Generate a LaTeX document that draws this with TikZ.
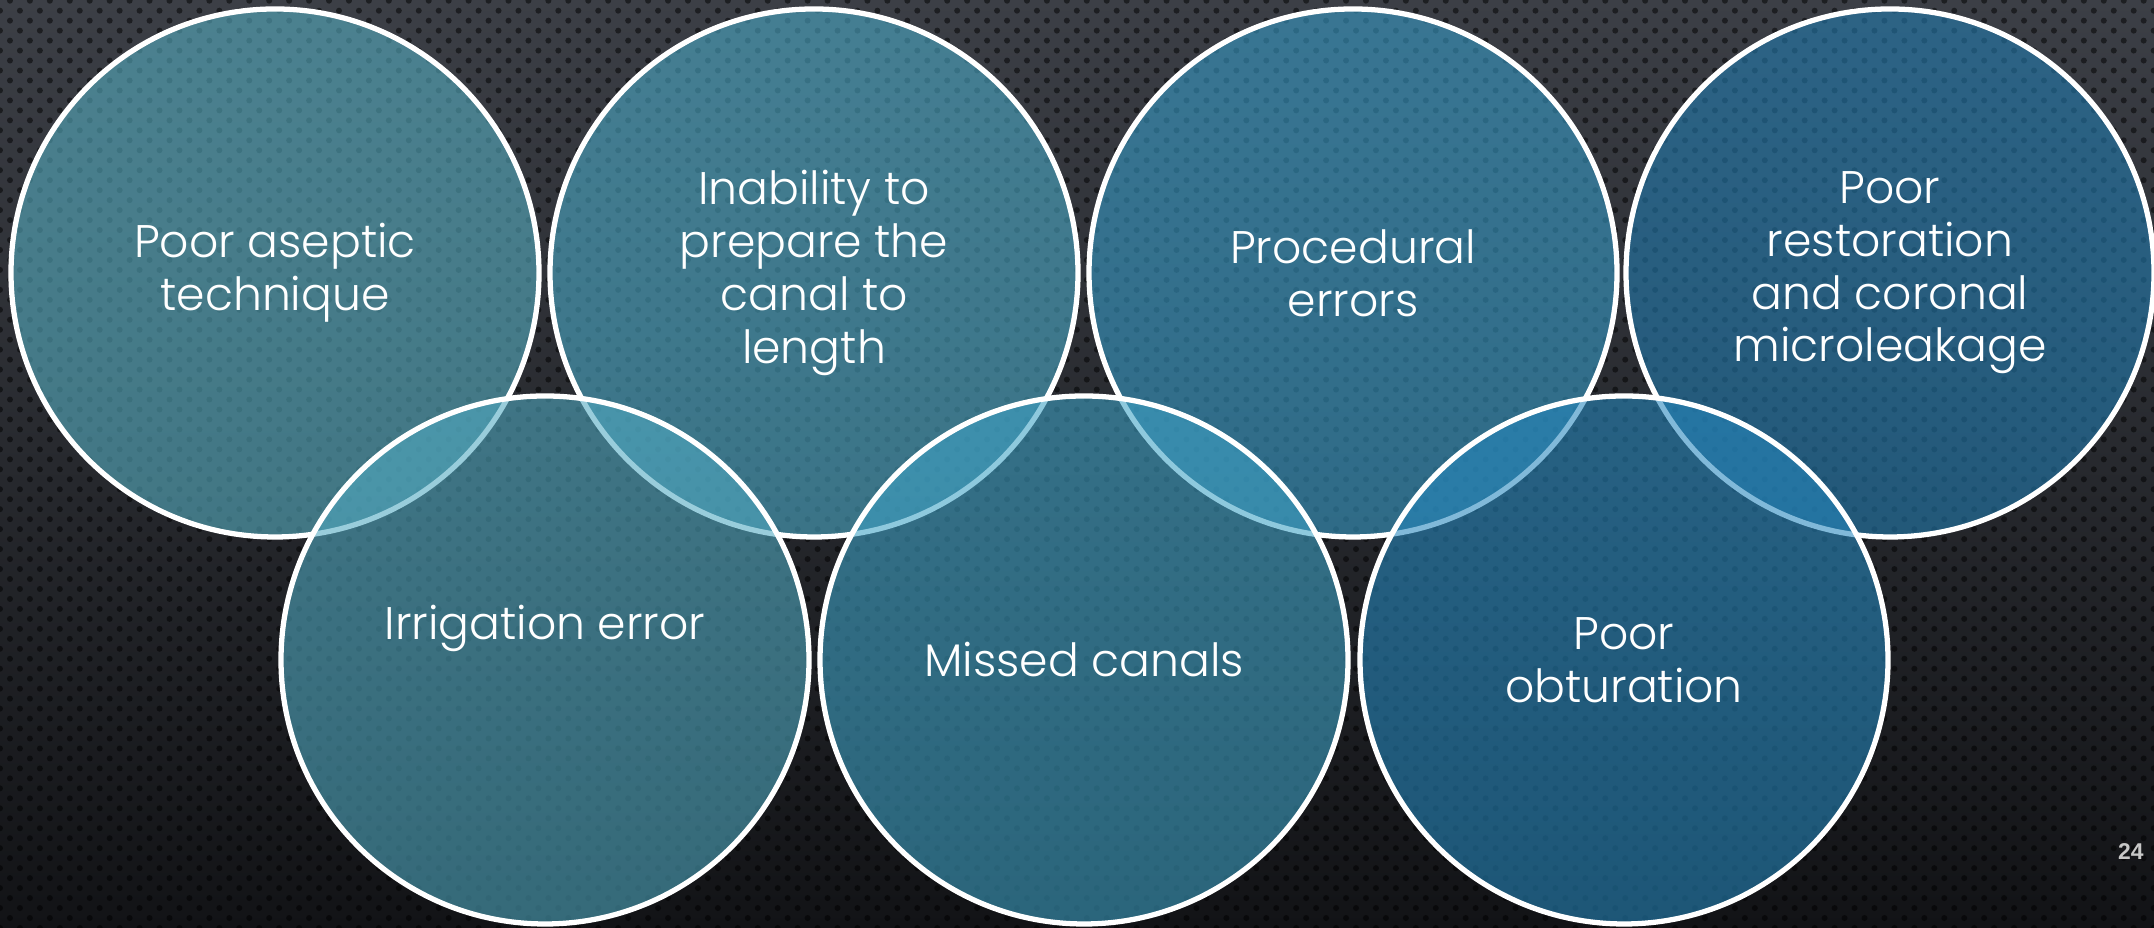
\documentclass[tikz,border=0pt]{standalone}
\usepackage{fontspec}
\setmainfont{Poppins Light}
\newfontfamily\pagefont{Liberation Sans}
\usetikzlibrary{patterns.meta}

\definecolor{bgtop}{RGB}{60,63,70}
\definecolor{bgbot}{RGB}{18,19,22}
\definecolor{ringA}{RGB}{88,178,198}
\definecolor{ringB}{RGB}{76,173,203}
\definecolor{ringC}{RGB}{56,158,203}
\definecolor{ringD}{RGB}{35,126,179}
\definecolor{ringE}{RGB}{80,170,194}
\definecolor{ringF}{RGB}{62,162,198}
\definecolor{ringG}{RGB}{38,136,190}
\definecolor{pagegray}{RGB}{200,200,200}

\begin{document}
\begin{tikzpicture}[every node/.style={align=center},
    ring/.style={draw=white, line width=1.5pt, circle, minimum size=5.28cm, inner sep=0pt, fill opacity=0.58, draw opacity=1},
    causetext/.style={text=white, font=\fontsize{13}{15}\selectfont}]
    % Background with dot texture
    \useasboundingbox (0,0) rectangle (21.54,9.28);
    \shade[top color=bgtop, bottom color=bgbot] (0,0) rectangle (21.54,9.28);
    \fill[pattern={Dots[radius=0.03cm, distance=0.141cm, angle=45]}, pattern color=black, fill opacity=0.5] (0,0) rectangle (21.54,9.28);

    % Upper row of circles
    \node[ring, fill=ringA] (aseptic) at (2.75, 6.55) {};
    \node[ring, fill=ringB] (prepare) at (8.14, 6.55) {};
    \node[ring, fill=ringC] (procedural) at (13.53, 6.55) {};
    \node[ring, fill=ringD] (restoration) at (18.90, 6.55) {};

    % Lower row, overlapping the upper one
    \node[ring, fill=ringE] (irrigation) at (5.45, 2.68) {};
    \node[ring, fill=ringF] (missed) at (10.84, 2.68) {};
    \node[ring, fill=ringG] (obturation) at (16.24, 2.68) {};

    % Labels
    \node[causetext] (asepticlabel) at (aseptic) {Poor aseptic\\technique};
    \node[causetext] (preparelabel) at (prepare) {Inability to\\prepare the\\canal to\\length};
    \node[causetext] (procedurallabel) at (procedural) {Procedural\\errors};
    \node[causetext] (restorationlabel) at (restoration) {Poor\\restoration\\and coronal\\microleakage};
    \node[causetext, yshift=0.32cm] (irrigationlabel) at (irrigation) {Irrigation error};
    \node[causetext] (missedlabel) at (missed) {Missed canals};
    \node[causetext] (obturationlabel) at (obturation) {Poor\\obturation};

    \node[font=\pagefont\bfseries\fontsize{6.5}{8}\selectfont, text=pagegray, anchor=base east] (pagenum) at (21.56, 0.68) {24};
\end{tikzpicture}
\end{document}
